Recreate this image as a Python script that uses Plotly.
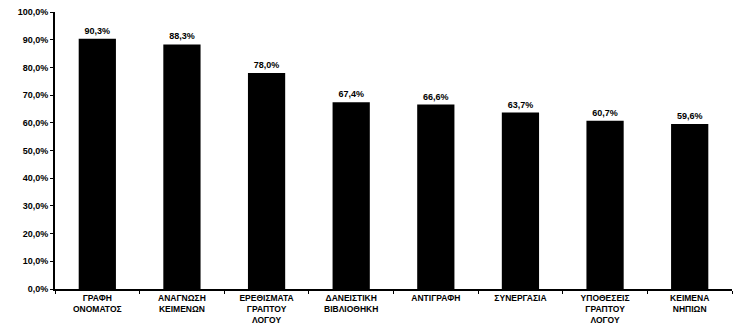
import plotly.graph_objects as go

categories = [
    "ΓΡΑΦΗ<br>ΟΝΟΜΑΤΟΣ",
    "ΑΝΑΓΝΩΣΗ<br>ΚΕΙΜΕΝΩΝ",
    "ΕΡΕΘΙΣΜΑΤΑ<br>ΓΡΑΠΤΟΥ<br>ΛΟΓΟΥ",
    "ΔΑΝΕΙΣΤΙΚΗ<br>ΒΙΒΛΙΟΘΗΚΗ",
    "ΑΝΤΙΓΡΑΦΗ",
    "ΣΥΝΕΡΓΑΣΙΑ",
    "ΥΠΟΘΕΣΕΙΣ<br>ΓΡΑΠΤΟΥ<br>ΛΟΓΟΥ",
    "ΚΕΙΜΕΝΑ<br>ΝΗΠΙΩΝ",
]
values = [90.3, 88.3, 78.0, 67.4, 66.6, 63.7, 60.7, 59.6]
y_ticks = [0, 10, 20, 30, 40, 50, 60, 70, 80, 90, 100]

font_family = "Liberation Sans, Arial, sans-serif"

fig = go.Figure(
    go.Bar(
        x=categories,
        y=values,
        width=0.44,
        marker=dict(color="black", line=dict(width=0)),
        texttemplate="<b>%{y:.1f}%</b>",
        textposition="outside",
        textfont=dict(family=font_family, size=9, color="black"),
        cliponaxis=False,
    )
)

fig.update_layout(
    width=735,
    height=327,
    margin=dict(l=55, r=3, t=12, b=38),
    plot_bgcolor="white",
    paper_bgcolor="white",
    separators=",.",
    showlegend=False,
    font=dict(family=font_family, size=9, color="black"),
)

fig.update_xaxes(
    tickvals=categories,
    ticktext=["<b>" + c.replace("<br>", "</b><br><b>") + "</b>" for c in categories],
    showline=True,
    linecolor="black",
    linewidth=2,
    ticks="outside",
    tickson="boundaries",
    ticklen=3,
    tickcolor="black",
    showgrid=False,
    tickangle=0,
    tickfont=dict(family=font_family, size=8.5, color="black"),
)

fig.update_yaxes(
    range=[0, 100],
    tickvals=y_ticks,
    ticktext=[f"<b>{v:.1f}%</b>".replace(".", ",") for v in y_ticks],
    showline=True,
    linecolor="black",
    linewidth=2,
    ticks="outside",
    ticklen=3,
    tickcolor="black",
    showgrid=False,
    zeroline=False,
    tickfont=dict(family=font_family, size=9, color="black"),
)

fig.write_html("out.html")
